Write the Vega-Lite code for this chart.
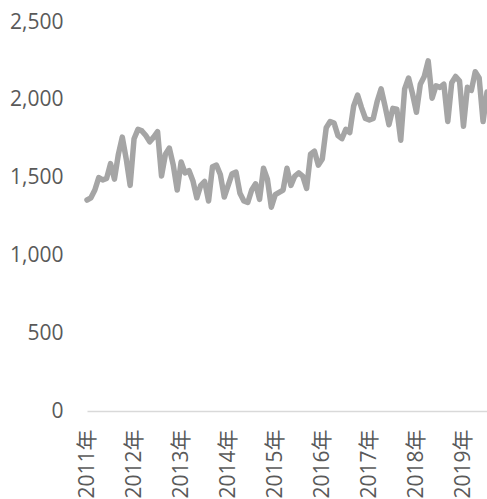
{
  "$schema": "https://vega.github.io/schema/vega-lite/v6.json",
  "autosize": "none",
  "width": 400,
  "height": 389,
  "padding": {"left": 87, "top": 22, "right": 0, "bottom": 88},
  "background": "white",
  "config": {"view": {"stroke": null}},
  "data": {"values": [
    {"m":"2011-01","v":1356},{"m":"2011-02","v":1370},{"m":"2011-03","v":1420},{"m":"2011-04","v":1500},{"m":"2011-05","v":1485},{"m":"2011-06","v":1495},{"m":"2011-07","v":1590},{"m":"2011-08","v":1490},{"m":"2011-09","v":1650},{"m":"2011-10","v":1760},{"m":"2011-11","v":1620},{"m":"2011-12","v":1450},
    {"m":"2012-01","v":1750},{"m":"2012-02","v":1810},{"m":"2012-03","v":1800},{"m":"2012-04","v":1770},{"m":"2012-05","v":1730},{"m":"2012-06","v":1760},{"m":"2012-07","v":1795},{"m":"2012-08","v":1510},{"m":"2012-09","v":1650},{"m":"2012-10","v":1690},{"m":"2012-11","v":1580},{"m":"2012-12","v":1420},
    {"m":"2013-01","v":1600},{"m":"2013-02","v":1530},{"m":"2013-03","v":1545},{"m":"2013-04","v":1480},{"m":"2013-05","v":1370},{"m":"2013-06","v":1450},{"m":"2013-07","v":1475},{"m":"2013-08","v":1350},{"m":"2013-09","v":1570},{"m":"2013-10","v":1580},{"m":"2013-11","v":1520},{"m":"2013-12","v":1375},
    {"m":"2014-01","v":1450},{"m":"2014-02","v":1525},{"m":"2014-03","v":1535},{"m":"2014-04","v":1400},{"m":"2014-05","v":1350},{"m":"2014-06","v":1340},{"m":"2014-07","v":1420},{"m":"2014-08","v":1460},{"m":"2014-09","v":1360},{"m":"2014-10","v":1560},{"m":"2014-11","v":1490},{"m":"2014-12","v":1310},
    {"m":"2015-01","v":1390},{"m":"2015-02","v":1405},{"m":"2015-03","v":1420},{"m":"2015-04","v":1560},{"m":"2015-05","v":1450},{"m":"2015-06","v":1510},{"m":"2015-07","v":1530},{"m":"2015-08","v":1510},{"m":"2015-09","v":1430},{"m":"2015-10","v":1650},{"m":"2015-11","v":1670},{"m":"2015-12","v":1580},
    {"m":"2016-01","v":1620},{"m":"2016-02","v":1820},{"m":"2016-03","v":1860},{"m":"2016-04","v":1850},{"m":"2016-05","v":1770},{"m":"2016-06","v":1750},{"m":"2016-07","v":1810},{"m":"2016-08","v":1790},{"m":"2016-09","v":1960},{"m":"2016-10","v":2030},{"m":"2016-11","v":1950},{"m":"2016-12","v":1880},
    {"m":"2017-01","v":1870},{"m":"2017-02","v":1880},{"m":"2017-03","v":1990},{"m":"2017-04","v":2070},{"m":"2017-05","v":1960},{"m":"2017-06","v":1840},{"m":"2017-07","v":1945},{"m":"2017-08","v":1940},{"m":"2017-09","v":1740},{"m":"2017-10","v":2070},{"m":"2017-11","v":2140},{"m":"2017-12","v":2040},
    {"m":"2018-01","v":1920},{"m":"2018-02","v":2100},{"m":"2018-03","v":2150},{"m":"2018-04","v":2250},{"m":"2018-05","v":2010},{"m":"2018-06","v":2090},{"m":"2018-07","v":2080},{"m":"2018-08","v":2100},{"m":"2018-09","v":1860},{"m":"2018-10","v":2110},{"m":"2018-11","v":2150},{"m":"2018-12","v":2120},
    {"m":"2019-01","v":1830},{"m":"2019-02","v":2080},{"m":"2019-03","v":2060},{"m":"2019-04","v":2180},{"m":"2019-05","v":2140},{"m":"2019-06","v":1860},{"m":"2019-07","v":2050}
  ]},
  "mark": {"type": "line", "color": "#a5a5a5", "strokeWidth": 5.5, "strokeJoin": "round", "strokeCap": "round"},
  "encoding": {
    "x": {
      "field": "m", "type": "ordinal", "sort": null,
      "scale": {"type": "point", "padding": 0},
      "axis": {
        "title": null,
        "values": ["2011-01","2012-01","2013-01","2014-01","2015-01","2016-01","2017-01","2018-01","2019-01"],
        "labelExpr": "slice(datum.label,0,4) + '年'",
        "labelAngle": -90,
        "labelFont": "Open Sans, Noto Sans CJK SC",
        "labelFontSize": 21,
        "labelColor": "#595959",
        "labelPadding": 18,
        "ticks": false,
        "domainColor": "#d9d9d9",
        "domainWidth": 1.3,
        "grid": false,
        "labelOverlap": false
      }
    },
    "y": {
      "field": "v", "type": "quantitative",
      "scale": {"domain": [0, 2500], "nice": false},
      "axis": {
        "title": null,
        "values": [0, 500, 1000, 1500, 2000, 2500],
        "format": ",.0f",
        "labelFont": "Open Sans",
        "labelFontSize": 21,
        "labelColor": "#595959",
        "labelPadding": 24,
        "ticks": false,
        "domain": false,
        "grid": false
      }
    }
  }
}
